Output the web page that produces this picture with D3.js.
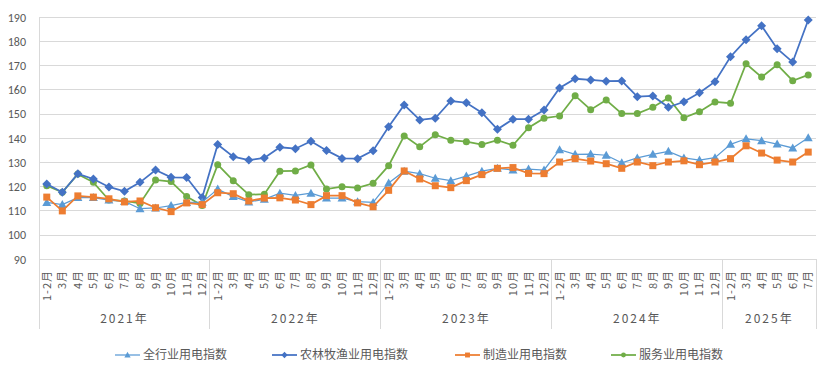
<!DOCTYPE html>
<html><head><meta charset="utf-8">
<script src="https://cdn.jsdelivr.net/npm/d3@7/dist/d3.min.js"></script>
<style>body{margin:0;background:#fff;}svg{display:block;}</style>
</head><body><svg id="c" width="823" height="366"></svg>
<script>
const years = ["2021年","2022年","2023年","2024年","2025年"];
const monthsFull = ["1-2月","3月","4月","5月","6月","7月","8月","9月","10月","11月","12月"];
const months2025 = ["1-2月","3月","4月","5月","6月","7月"];
const seriesNames = ["全行业用电指数","农林牧渔业用电指数","制造业用电指数","服务业用电指数"];
const seriesColors = ["#5B9BD5","#4472C4","#ED7D31","#70AD47"];
const yTicks = [90,100,110,120,130,140,150,160,170,180,190];

const allIndustry = [113.5,112.6,115.5,115.5,114.5,113.9,110.9,111.2,112.2,113.5,113.6,
  119,115.9,113.7,114.8,117.3,116.4,117.3,115.3,115.3,113.8,113.5,
  121.5,126.4,125.4,123.5,122.5,124.4,126.4,127.6,126.9,127.3,126.9,
  135.3,133.4,133.5,133,129.9,131.9,133.4,134.6,131.9,131,132,
  137.5,139.8,139,137.6,136,140.2];
const agriculture = [121.1,117.7,125.3,123.2,119.9,118.1,121.8,126.9,123.9,123.8,115.5,
  137.4,132.4,131,131.9,136.3,135.7,138.8,135,131.7,131.6,134.9,
  144.8,153.8,147.6,148.3,155.4,154.7,150.6,143.7,147.9,147.9,151.7,
  160.8,164.6,164.1,163.6,163.7,157.2,157.5,152.8,155.1,158.8,163.4,
  173.7,180.7,186.5,177,171.5,188.9];
const manufacturing = [115.7,110,116.2,115.7,115,113.7,114.1,111.3,109.7,113.3,112.6,
  117.5,117.1,114.1,115.3,115.4,114.5,112.6,116.3,116.3,113.3,111.7,
  118.5,126.5,123.2,120.4,119.6,122.5,125,127.6,127.9,125.5,125.4,
  130.2,131.6,130.6,129.5,127.6,130.2,128.7,130.2,130.7,129.1,130.2,
  131.6,136.9,133.9,131,130.2,134.3];
const services = [120.4,117.7,125.2,121.8,114.5,114.1,113.1,122.8,122.1,115.9,112.2,
  129.1,122.5,116.7,116.9,126.4,126.5,129,119,120,119.5,121.4,
  128.7,141,136.5,141.5,139.2,138.6,137.4,139.2,137.1,144.4,148.3,
  149.2,157.6,151.8,155.8,150.2,150.2,152.8,156.7,148.5,151,155,
  154.5,170.8,165.3,170.4,163.8,166.2];

const cats = [];
years.forEach((y,yi)=>{
  const ms = yi===4 ? months2025 : monthsFull;
  ms.forEach(m=>cats.push({year:y, month:m, key:y+"|"+m}));
});
const data = [allIndustry, agriculture, manufacturing, services];

const svg = d3.select("#c");
const L=39, R=816, T=17.3, B=259.3;
const x = d3.scaleBand().domain(cats.map(d=>d.key)).range([L,R]);
const y = d3.scaleLinear().domain([90,190]).range([B,T]);
const font = "'Microsoft YaHei','Noto Sans CJK SC','DejaVu Sans',sans-serif";
const txt = "#595959";

svg.append("g").selectAll("line").data(yTicks).join("line")
  .attr("x1",L).attr("x2",R).attr("y1",d=>y(d)).attr("y2",d=>y(d))
  .attr("stroke","#d9d9d9").attr("stroke-width",1).attr("shape-rendering","crispEdges");
svg.append("g").selectAll("text").data(yTicks).join("text")
  .attr("x",26).attr("y",d=>y(d)).attr("dy","0.35em").attr("text-anchor","end")
  .attr("font-family","Calibri,Carlito,'Liberation Sans',sans-serif").attr("font-size",12).attr("fill",txt)
  .text(d=>d);
svg.append("line").attr("x1",L).attr("x2",L).attr("y1",T).attr("y2",329)
  .attr("stroke","#d9d9d9").attr("shape-rendering","crispEdges");
const yearStarts = years.map(yr=>cats.findIndex(c=>c.year===yr));
const bounds = yearStarts.slice(1).map(i=>x(cats[i].key)).concat([R]);
svg.append("g").selectAll("line").data(bounds).join("line")
  .attr("x1",d=>d).attr("x2",d=>d).attr("y1",B).attr("y2",329)
  .attr("stroke","#d9d9d9").attr("shape-rendering","crispEdges");
svg.append("g").selectAll("text").data(cats).join("text")
  .attr("transform",d=>`translate(${x(d.key)+x.bandwidth()/2+4},270) rotate(-90)`)
  .attr("text-anchor","end").attr("font-family",font).attr("font-size",11)
  .attr("letter-spacing","1px").attr("fill",txt).text(d=>d.month);
years.forEach((yr,yi)=>{
  const idx = cats.map((c,i)=>c.year===yr?i:-1).filter(i=>i>=0);
  const x0 = x(cats[idx[0]].key), x1 = x(cats[idx[idx.length-1]].key)+x.bandwidth();
  svg.append("text").attr("x",(x0+x1)/2).attr("y",323).attr("text-anchor","middle")
    .attr("font-family",font).attr("font-size",12).attr("letter-spacing","2px")
    .attr("fill",txt).text(yr);
});

const cx = i=>x(cats[i].key)+x.bandwidth()/2;
const line = d3.line().x((d,i)=>cx(i)).y(d=>y(d));
function marker(g, type, color, px, py, k){
  k = k||1;
  if(type==="tri"){
    g.append("path").attr("d",`M${px},${py-4.5*k}L${px+4.5*k},${py+3.5*k}L${px-4.5*k},${py+3.5*k}Z`).attr("fill",color);
  } else if(type==="dia"){
    g.append("path").attr("d",`M${px},${py-4.5*k}L${px+4.5*k},${py}L${px},${py+4.5*k}L${px-4.5*k},${py}Z`).attr("fill",color);
  } else if(type==="sq"){
    g.append("rect").attr("x",px-3.5*k).attr("y",py-3.5*k).attr("width",7*k).attr("height",7*k).attr("fill",color);
  } else {
    g.append("circle").attr("cx",px).attr("cy",py).attr("r",3.5*k).attr("fill",color);
  }
}
const types = ["tri","dia","sq","circ"];
const order = [3,1,0,2];
order.forEach(s=>{
  const g = svg.append("g");
  g.append("path").datum(data[s]).attr("d",line).attr("fill","none")
    .attr("stroke",seriesColors[s]).attr("stroke-width",s===0?1.25:1.75);
  data[s].forEach((v,i)=>marker(g,types[s],seriesColors[s],cx(i),y(v)));
});

const legX = [115,272,455,611];
const legY = 355;
seriesNames.forEach((n,s)=>{
  const g = svg.append("g");
  g.append("line").attr("x1",legX[s]).attr("x2",legX[s]+25).attr("y1",legY).attr("y2",legY)
    .attr("stroke",seriesColors[s]).attr("stroke-width",s===0?1.25:1.75);
  marker(g,types[s],seriesColors[s],legX[s]+12.5,legY,0.7);
  g.append("text").attr("x",legX[s]+28).attr("y",legY).attr("dy","0.36em")
    .attr("font-family",font).attr("font-size",12).attr("fill",txt).text(n);
});
</script></body></html>
